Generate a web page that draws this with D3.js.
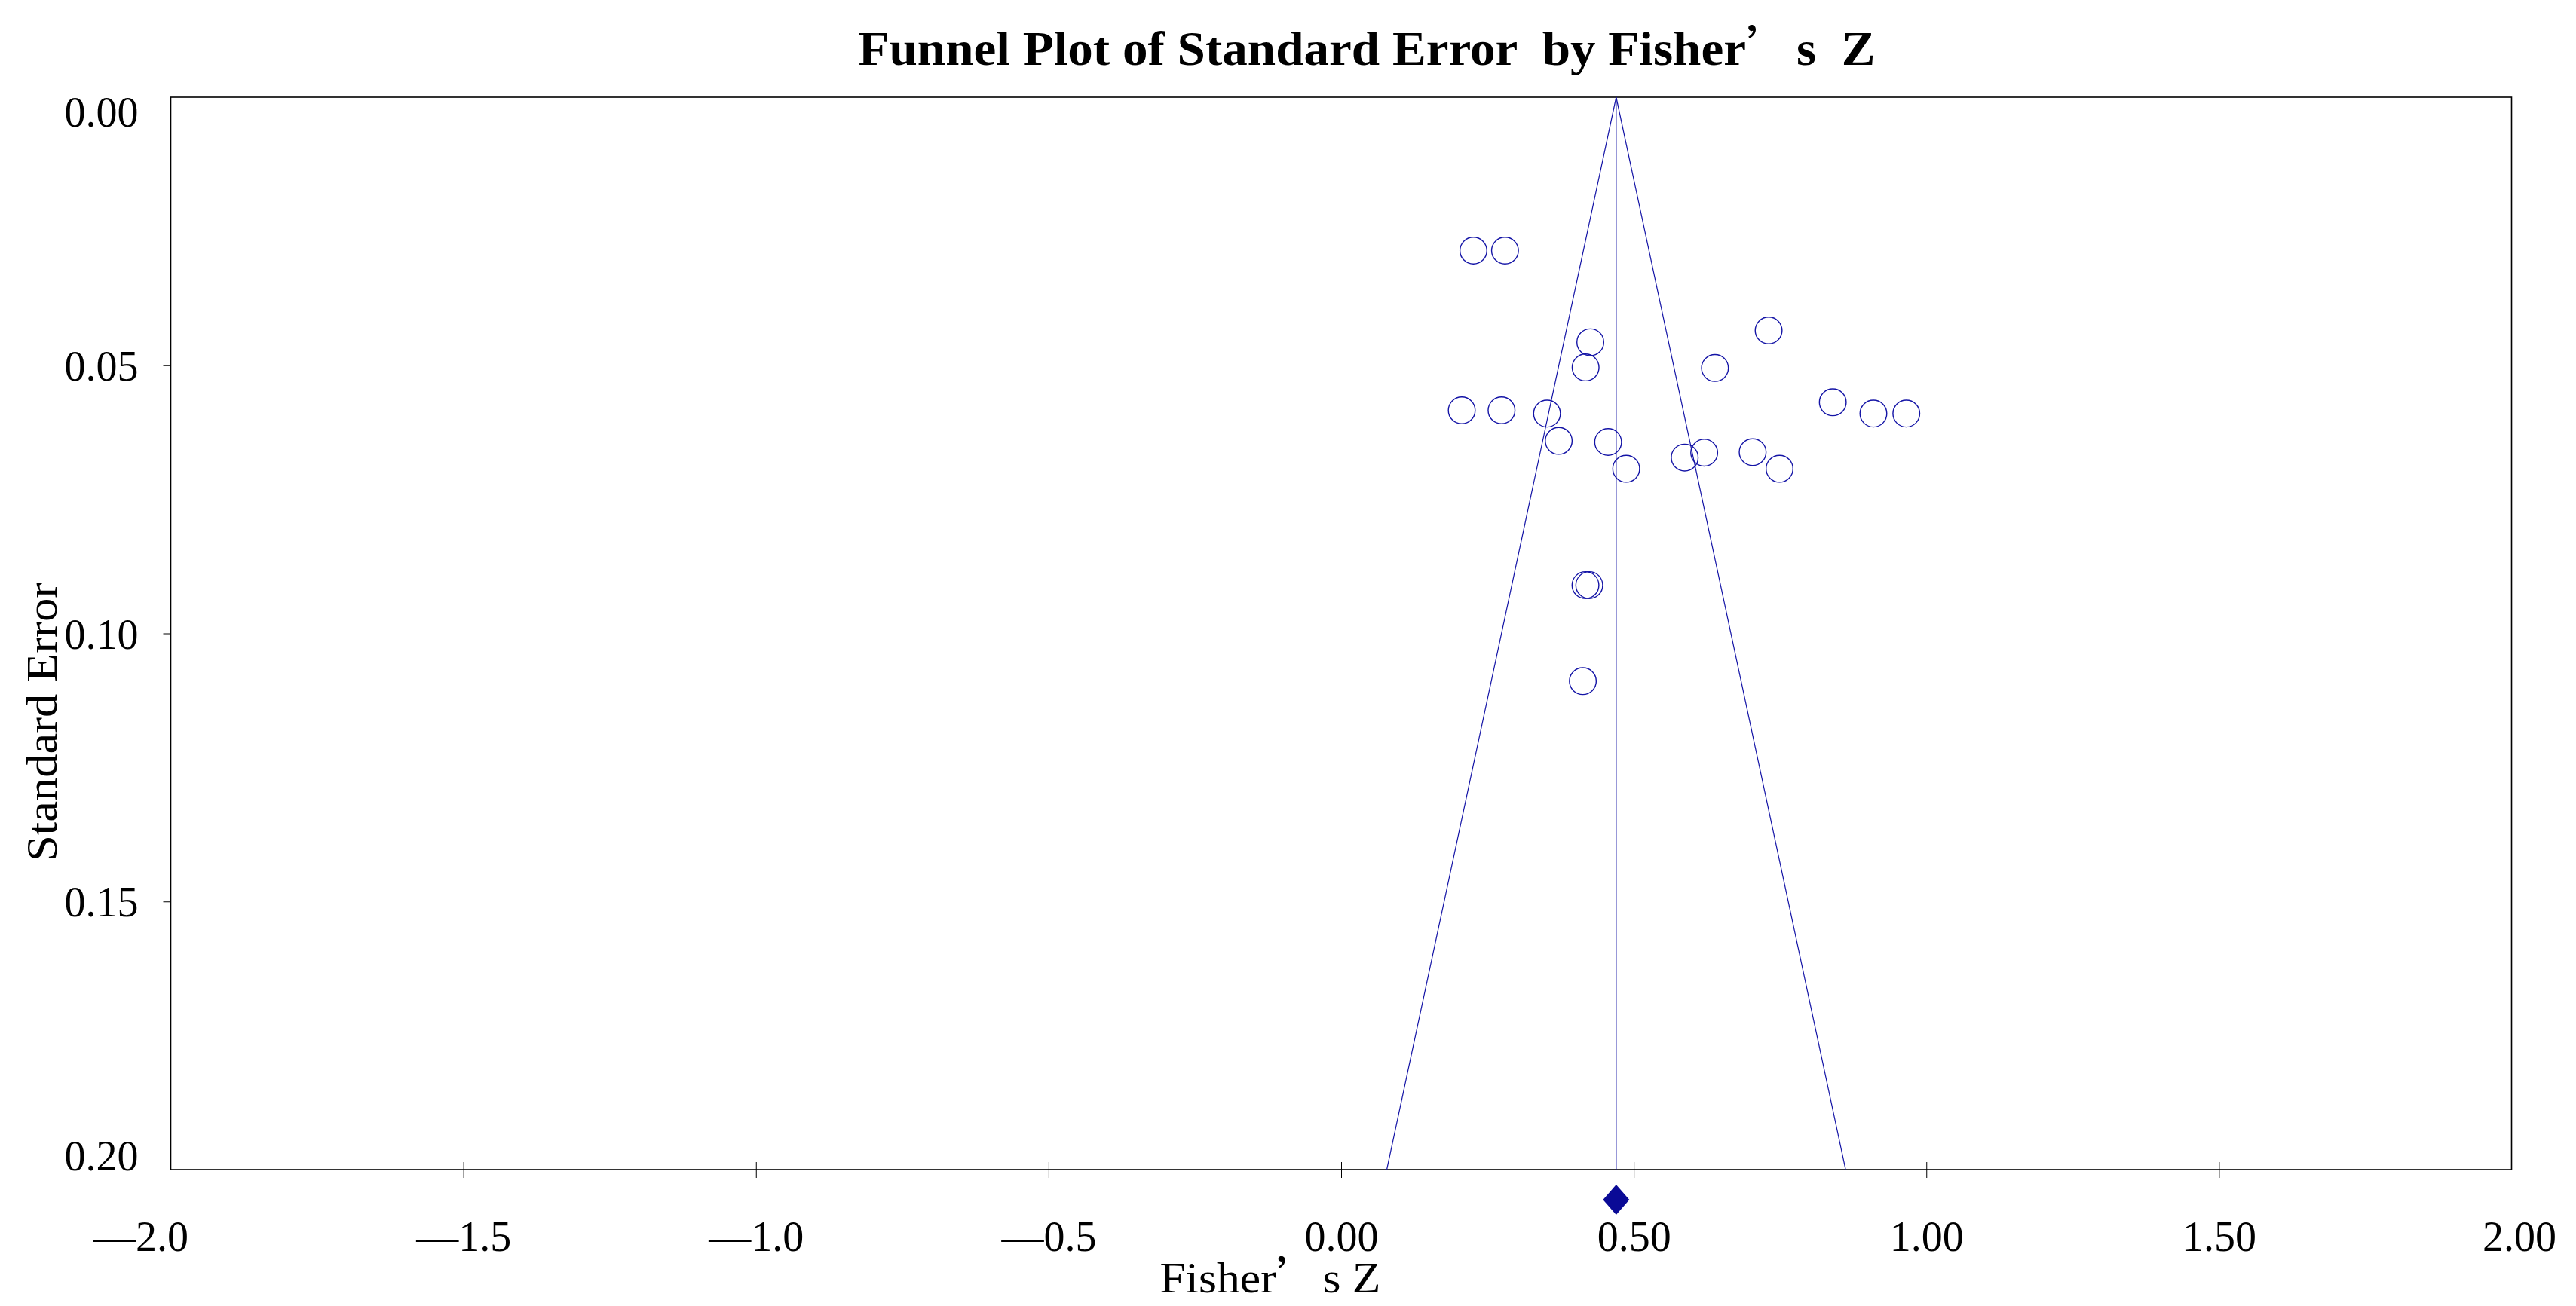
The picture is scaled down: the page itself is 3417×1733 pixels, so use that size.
<!DOCTYPE html>
<html>
<head>
<meta charset="utf-8">
<script src="https://cdn.jsdelivr.net/npm/d3@7"></script>
<style>
  html, body { margin: 0; padding: 0; background: #fff; }
  svg { display: block; }
  text { font-family: "Liberation Serif", "Times New Roman", serif; fill: #000; }
</style>
</head>
<body>
<svg id="chart" width="3417" height="1733"></svg>
<script>
// ---- data ----
const studyZ  = [0.226, 0.280, 0.7305, 0.4258, 0.4177, 0.6388, 0.2061, 0.2741, 0.3518, 0.8401, 0.9095,
                 0.9658, 0.3718, 0.4562, 0.4871, 0.5871, 0.6204, 0.7032, 0.7491, 0.4175, 0.4240, 0.4130];
const studySE = [0.0286, 0.0286, 0.0435, 0.0457, 0.0504, 0.0505, 0.0584, 0.0584, 0.0590, 0.0569, 0.0590,
                 0.0590, 0.0641, 0.0643, 0.0693, 0.0672, 0.0663, 0.0662, 0.0693, 0.0910, 0.0910, 0.1089];
const pooledZ = [0.470];
const pooledCI = [0.4475, 0.4925];
const xTickValues = [-2.0, -1.5, -1.0, -0.5, 0.0, 0.5, 1.0, 1.5, 2.0];
const xTickLabels = ["—2.0", "—1.5", "—1.0", "—0.5", "0.00", "0.50", "1.00", "1.50", "2.00"];
const yTickValues = [0.00, 0.05, 0.10, 0.15, 0.20];
const yTickLabels = ["0.00", "0.05", "0.10", "0.15", "0.20"];
const xDomain = [-2, 2];
const yDomain = [0, 0.2];
const zCrit = [1.96];

(function () {
// ---- layout ----
const pLeft = 226.5, pRight = 3331.5, pTop = 129, pBottom = 1552;
const blue = "#1414a6";

const svg = d3.select("#chart");
const x = d3.scaleLinear().domain(xDomain).range([pLeft, pRight]);
const y = d3.scaleLinear().domain(yDomain).range([pTop, pBottom]);

// frame
svg.append("rect")
  .attr("x", pLeft).attr("y", pTop)
  .attr("width", pRight - pLeft).attr("height", pBottom - pTop)
  .attr("fill", "none").attr("stroke", "#000").attr("stroke-width", 1.6);

// x axis
const xAxis = svg.append("g")
  .attr("transform", `translate(0,${pBottom})`)
  .call(d3.axisBottom(x).tickValues(xTickValues)
        .tickFormat((d, i) => xTickLabels[i]).tickSizeOuter(0).tickSizeInner(10));
xAxis.select(".domain").remove();
xAxis.selectAll(".tick line").attr("y1", -10).attr("y2", 11).attr("stroke", "#000").attr("stroke-width", 1);
xAxis.selectAll(".tick text")
  .attr("y", 108).attr("dy", 0)
  .style("font-family", "'Liberation Serif', serif")
  .style("font-size", "56px").attr("fill", "#000");
xAxis.selectAll(".tick").filter((d, i) => i === 0).select("text").attr("dx", -40);
xAxis.selectAll(".tick").filter((d, i) => i === xTickValues.length - 1).select("text").attr("dx", 10);
xAxis.selectAll(".tick").filter((d, i) => i === 0 || i === xTickValues.length - 1).select("line").remove();

// y axis
const yAxis = svg.append("g")
  .attr("transform", `translate(${pLeft},0)`)
  .call(d3.axisLeft(y).tickValues(yTickValues)
        .tickFormat((d, i) => yTickLabels[i]).tickSizeOuter(0).tickSizeInner(10).tickPadding(33));
yAxis.select(".domain").remove();
yAxis.selectAll(".tick line").attr("stroke", "#000").attr("stroke-width", 1);
yAxis.selectAll(".tick text")
  .style("font-family", "'Liberation Serif', serif")
  .style("font-size", "56px").attr("fill", "#000").attr("dy", "0.35em");
yAxis.selectAll(".tick").filter((d, i) => i === 0).select("text").attr("dy", "0.68em");
yAxis.selectAll(".tick").filter((d, i) => i === yTickValues.length - 1).select("text").attr("dy", "0em");
yAxis.selectAll(".tick").filter((d, i) => i === 0 || i === yTickValues.length - 1).select("line").remove();

// funnel
const m = pooledZ[0];
const se0 = yDomain[0], se1 = yDomain[1];
const line = d3.line().x(d => x(d[0])).y(d => y(d[1]));
svg.append("path")
  .attr("d", line([[m - zCrit[0] * se1, se1], [m, se0], [m + zCrit[0] * se1, se1]]))
  .attr("fill", "none").attr("stroke", blue).attr("stroke-width", 1.2);
svg.append("path")
  .attr("d", line([[m, se0], [m, se1]]))
  .attr("fill", "none").attr("stroke", blue).attr("stroke-width", 1.2);

// study points
svg.append("g").selectAll("circle")
  .data(studyZ.map((z, i) => ({ z, se: studySE[i] })))
  .join("circle")
  .attr("cx", d => x(d.z)).attr("cy", d => y(d.se)).attr("r", 17.8)
  .attr("fill", "none").attr("stroke", blue).attr("stroke-width", 1.4);

// pooled diamond
const dy0 = pBottom + 40;
svg.append("path")
  .attr("d", `M${x(pooledCI[0])},${dy0} L${x(m)},${dy0 - 20} L${x(pooledCI[1])},${dy0} L${x(m)},${dy0 + 20} Z`)
  .attr("fill", "#0a0a96");

// title
const title = svg.append("text")
  .attr("x", 1813).attr("y", 86).attr("text-anchor", "middle")
  .attr("xml:space", "preserve")
  .style("font-size", "63px").style("font-weight", "bold")
  .attr("textLength", 1349).attr("lengthAdjust", "spacingAndGlyphs");
title.append("tspan").text("Funnel Plot of Standard Error  by Fisher");
title.append("tspan").style("font-family", "'Noto Sans CJK SC'").style("font-weight", "normal").text("’");
title.append("tspan").text("s  Z");

// x axis label
const xl = svg.append("text")
  .attr("x", 1685).attr("y", 1715).attr("text-anchor", "middle")
  .attr("xml:space", "preserve")
  .style("font-size", "57px")
  .attr("textLength", 293).attr("lengthAdjust", "spacingAndGlyphs");
xl.append("tspan").text("Fisher");
xl.append("tspan").style("font-family", "'Noto Sans CJK SC'").text("’");
xl.append("tspan").text("s Z");

// y axis label
svg.append("text")
  .attr("transform", `translate(75,958) rotate(-90)`)
  .attr("text-anchor", "middle")
  .style("font-size", "57px")
  .attr("textLength", 370).attr("lengthAdjust", "spacingAndGlyphs")
  .text("Standard Error");
})();
</script>
</body>
</html>
